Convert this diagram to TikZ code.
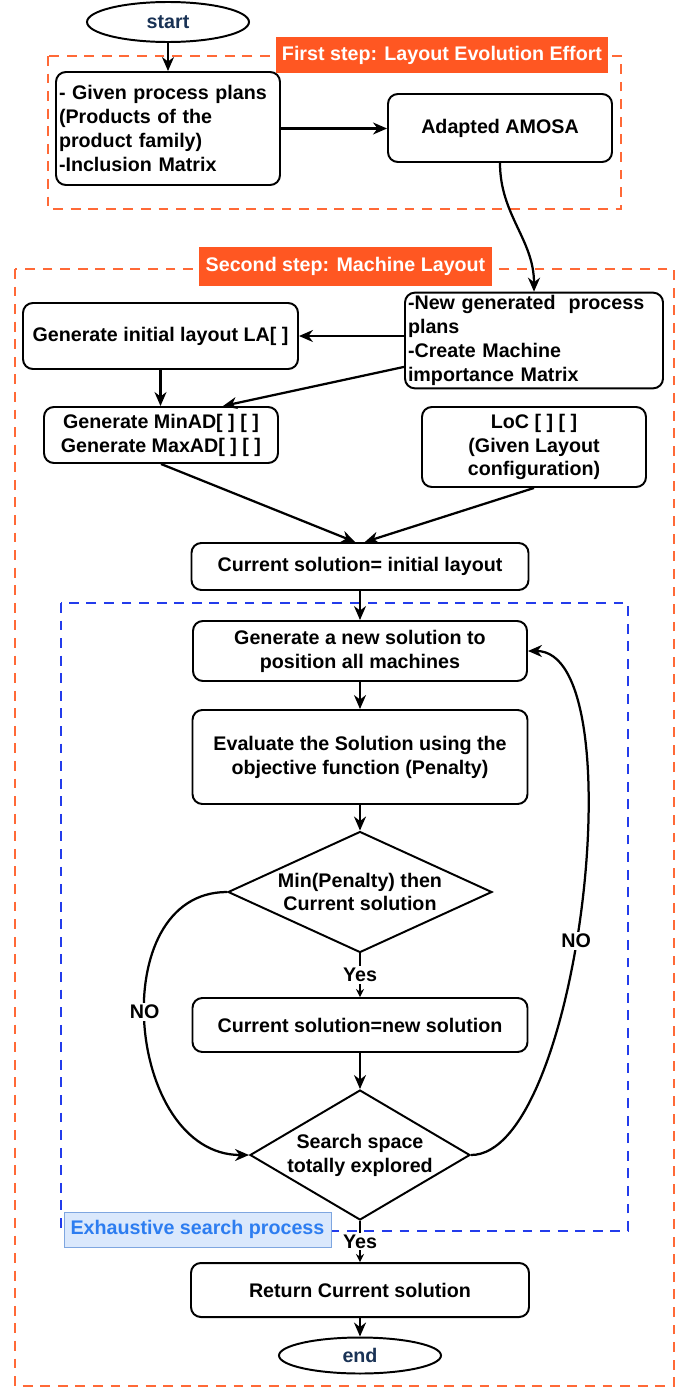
\documentclass[tikz,border=0pt]{standalone}
\usepackage{fontspec}
\setmainfont{Liberation Sans}
\usetikzlibrary{arrows.meta, shapes.geometric}

\definecolor{stepOrange}{RGB}{255,87,34}
\definecolor{frameOrange}{RGB}{255,105,55}
\definecolor{frameBlue}{RGB}{35,60,235}
\definecolor{searchFill}{RGB}{218,232,252}
\definecolor{searchDraw}{RGB}{126,166,224}
\definecolor{searchText}{RGB}{45,125,240}
\definecolor{termText}{RGB}{25,50,85}

\begin{document}
\begin{tikzpicture}[
        font=\fontsize{14}{17}\selectfont\bfseries,
        box/.style={rectangle, rounded corners=7pt, draw, line width=1.4pt, align=center, inner sep=2pt},
        textbox/.style={box, align=left},
        terminal/.style={ellipse, draw, line width=1.4pt, text=termText, minimum width=4.05cm, minimum height=1cm},
        decision/.style={diamond, draw, line width=1.4pt, inner sep=0pt, align=center},
        arrow/.style={-{Stealth[length=3.5mm, width=3mm]}, line width=1.6pt},
        yesarrow/.style={-{Stealth[length=2mm, width=2mm]}, line width=1.6pt},
        steplabel/.style={fill=stepOrange, text=white, inner sep=1pt},
        searchlabel/.style={fill=searchFill, draw=searchDraw, text=searchText, line width=0.6pt, inner sep=1pt},
        frame/.style={dash pattern=on 7pt off 5.5pt, line width=1.4pt},
        answer/.style={fill=white, inner sep=1.5pt}
    ]
        \useasboundingbox (0,0) rectangle (17.3,-34.725);

        % Step frames
        \draw[frame, frameOrange] (1.2,-1.4) rectangle (15.525,-5.225);
        \draw[frame, frameOrange] (0.375,-6.725) rectangle (16.85,-34.65);
        \draw[frame, frameBlue] (1.525,-15.075) rectangle (15.7,-30.775);
        \node[steplabel, minimum width=8.3cm, minimum height=0.9cm] (firstlbl) at (11.05,-1.375) {First step: Layout Evolution Effort};
        \node[steplabel, minimum width=7.325cm, minimum height=0.975cm] (secondlbl) at (8.6375,-6.6625) {Second step: Machine Layout};
        \node[searchlabel, minimum width=6.675cm, minimum height=0.875cm] (searchlbl) at (4.9375,-30.7375) {Exhaustive search process};

        % First step nodes
        \node[terminal] (start) at (4.2,-0.55) {start};
        \node[textbox, minimum width=5.6cm, minimum height=2.825cm, text width=5.45cm] (plans) at (4.2,-3.2125) {- Given process plans\\(Products of the\\product family)\\-Inclusion Matrix};
        \node[box, minimum width=5.6cm, minimum height=1.7cm] (amosa) at (12.5,-3.2) {Adapted AMOSA};

        % Second step nodes
        \node[textbox, minimum width=6.45cm, minimum height=2.375cm, text width=6.3cm] (newplans) at (13.35,-8.5125) {-New generated\ \ process\\plans\\-Create Machine\\importance Matrix};
        \node[box, minimum width=6.875cm, minimum height=1.65cm] (initla) at (4.0125,-8.4) {Generate initial layout LA[ ]};
        \node[box, minimum width=5.85cm, minimum height=1.4cm] (minmax) at (4.025,-10.875) {Generate MinAD[ ] [ ]\\Generate MaxAD[ ] [ ]};
        \node[box, minimum width=5.6cm, minimum height=2cm] (loc) at (13.35,-11.175) {LoC [ ] [ ]\\(Given Layout\\configuration)};
        \node[box, minimum width=8.425cm, minimum height=1.175cm] (initsol) at (9,-14.1625) {Current solution= initial layout};

        % Exhaustive search nodes
        \node[box, minimum width=8.35cm, minimum height=1.5cm] (newsol) at (9,-16.275) {Generate a new solution to\\position all machines};
        \node[box, minimum width=8.375cm, minimum height=2.35cm] (evaluate) at (9,-18.925) {Evaluate the Solution using the\\objective function (Penalty)};
        \node[decision, aspect=2.2, minimum width=6.6cm, minimum height=3.025cm] (minpen) at (9,-22.3) {Min(Penalty) then\\Current solution};
        \node[box, minimum width=8.375cm, minimum height=1.35cm] (cursol) at (9,-25.625) {Current solution=new solution};
        \node[decision, aspect=1.7, minimum width=5.5cm, minimum height=3.25cm] (explored) at (9,-28.875) {Search space\\totally explored};
        \node[box, minimum width=8.45cm, minimum height=1.35cm] (result) at (9,-32.25) {Return Current solution};
        \node[terminal, minimum height=0.9cm] (stop) at (9,-33.8875) {end};

        % Main flow arrows
        \draw[arrow] (start) -- (plans);
        \draw[arrow] (plans.east) -- (plans.east -| amosa.west);
        \draw[arrow] (amosa.south) to[out=-90, in=90] (newplans.north);
        \draw[arrow] (newplans.west |- initla.east) -- (initla.east);
        \draw[arrow] (initla.south) -- (initla.south |- minmax.north);
        \draw[arrow] ([yshift=-0.66cm]newplans.west) -- ([xshift=1.55cm]minmax.north);
        \draw[arrow] (minmax.south) -- ([xshift=-0.12cm]initsol.north);
        \draw[arrow] (loc.south) -- ([xshift=0.12cm]initsol.north);
        \draw[arrow] (initsol) -- (newsol);
        \draw[arrow] (newsol) -- (evaluate);
        \draw[arrow] (evaluate) -- (minpen);
        \draw[yesarrow] (minpen) -- node[answer] (yes1) {Yes} (cursol);
        \draw[arrow] (cursol) -- (explored);
        \draw[yesarrow] (explored) -- node[answer] (yes2) {Yes} (result);
        \draw[arrow] (result) -- (stop);

        % Loop-back arrows
        \draw[arrow] (minpen.west) to[out=180, in=180, looseness=1.2] node[answer, pos=0.47] (no1) {NO} (explored.west);
        \draw[arrow] (explored.east) to[out=0, in=0, looseness=0.55] node[answer, pos=0.45] (no2) {NO} (newsol.east);
    \end{tikzpicture}
\end{document}
